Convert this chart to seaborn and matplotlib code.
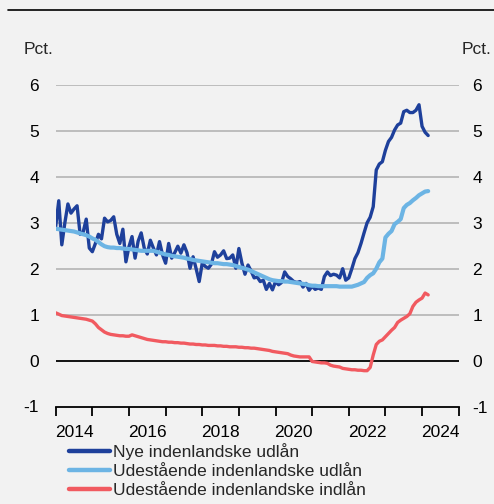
import numpy as np
import pandas as pd
import matplotlib
matplotlib.use("Agg")
import matplotlib.pyplot as plt
import seaborn as sns
from matplotlib.ticker import FixedLocator, NullFormatter, FixedFormatter
from matplotlib.lines import Line2D

# Monthly interest rates (pct.), January 2014 onwards
nye_udlaan = [
    2.92, 3.48, 2.52, 3.00, 3.41, 3.21, 3.30, 3.37, 2.75, 2.80, 3.08, 2.45,
    2.37, 2.55, 2.75, 2.65, 3.10, 3.02, 3.05, 3.13, 2.75, 2.55, 2.86, 2.15,
    2.48, 2.70, 2.23, 2.60, 2.78, 2.45, 2.32, 2.62, 2.45, 2.30, 2.59, 2.30,
    2.12, 2.55, 2.23, 2.35, 2.49, 2.34, 2.52, 2.35, 2.01, 2.26, 2.00, 1.72,
    2.12, 2.05, 2.01, 2.10, 2.37, 2.25, 2.30, 2.39, 2.22, 2.23, 2.30, 2.01,
    2.44, 2.12, 1.88, 2.08, 1.95, 1.80, 1.82, 1.72, 1.75, 1.55, 1.68, 1.54,
    1.72, 1.65, 1.70, 1.93, 1.83, 1.78, 1.72, 1.70, 1.72, 1.60, 1.68, 1.53,
    1.62, 1.55, 1.58, 1.55, 1.83, 1.93, 1.85, 1.88, 1.86, 1.80, 2.00, 1.75,
    1.80, 2.00, 2.22, 2.35, 2.55, 2.78, 3.00, 3.12, 3.35, 4.15, 4.28, 4.33,
    4.58, 4.77, 4.86, 5.02, 5.13, 5.17, 5.42, 5.45, 5.40, 5.40, 5.45, 5.57,
    5.10, 4.97, 4.90,
]
udestaaende_udlaan = [
    2.87, 2.86, 2.85, 2.84, 2.83, 2.82, 2.81, 2.79, 2.77, 2.75, 2.73, 2.70,
    2.66, 2.63, 2.58, 2.53, 2.49, 2.47, 2.46, 2.46, 2.45, 2.45, 2.44, 2.43,
    2.43, 2.42, 2.41, 2.40, 2.39, 2.39, 2.39, 2.39, 2.39, 2.37, 2.35, 2.33,
    2.31, 2.30, 2.28, 2.27, 2.26, 2.25, 2.24, 2.22, 2.21, 2.19, 2.18, 2.17,
    2.16, 2.15, 2.14, 2.13, 2.12, 2.12, 2.11, 2.10, 2.10, 2.09, 2.08, 2.06,
    2.04, 2.02, 2.00, 1.98, 1.95, 1.92, 1.89, 1.86, 1.83, 1.80, 1.77, 1.75,
    1.74, 1.73, 1.73, 1.72, 1.72, 1.71, 1.70, 1.69, 1.68, 1.67, 1.66, 1.64,
    1.63, 1.63, 1.62, 1.62, 1.62, 1.62, 1.62, 1.62, 1.62, 1.61, 1.61, 1.61,
    1.61, 1.61, 1.63, 1.65, 1.68, 1.71, 1.80, 1.86, 1.90, 2.00, 2.14, 2.22,
    2.68, 2.76, 2.82, 2.97, 3.02, 3.08, 3.32, 3.39, 3.43, 3.49, 3.54, 3.60,
    3.64, 3.68, 3.69,
]
udestaaende_indlaan = [
    1.04, 1.01, 0.98, 0.97, 0.96, 0.95, 0.94, 0.93, 0.92, 0.91, 0.90, 0.88,
    0.86, 0.80, 0.72, 0.67, 0.62, 0.59, 0.57, 0.56, 0.55, 0.54, 0.54, 0.53,
    0.53, 0.56, 0.54, 0.52, 0.50, 0.48, 0.46, 0.45, 0.44, 0.43, 0.42, 0.41,
    0.41, 0.40, 0.40, 0.39, 0.39, 0.38, 0.38, 0.37, 0.36, 0.36, 0.35, 0.35,
    0.34, 0.34, 0.33, 0.33, 0.33, 0.32, 0.32, 0.31, 0.31, 0.30, 0.30, 0.30,
    0.29, 0.29, 0.28, 0.28, 0.27, 0.27, 0.26, 0.25, 0.24, 0.23, 0.22, 0.20,
    0.19, 0.18, 0.17, 0.16, 0.15, 0.12, 0.10, 0.09, 0.08, 0.08, 0.08, 0.08,
    -0.02, -0.03, -0.04, -0.05, -0.05, -0.06, -0.10, -0.12, -0.13, -0.14, -0.17, -0.18,
    -0.19, -0.20, -0.20, -0.21, -0.21, -0.22, -0.22, -0.15, 0.12, 0.35, 0.42, 0.45,
    0.52, 0.59, 0.66, 0.72, 0.83, 0.88, 0.92, 0.96, 1.02, 1.18, 1.27, 1.32,
    1.36, 1.47, 1.43,
]

series_names = [
    "Nye indenlandske udlån",
    "Udestående indenlandske udlån",
    "Udestående indenlandske indlån",
]
series_colors = ["#1e409b", "#6cb4e4", "#f15a60"]
series_widths = [2.4, 3.0, 2.4]

year_ticks = list(range(2014, 2026))
year_labels = ["2014", "2016", "2018", "2020", "2022", "2024"]
y_ticks = [-1, 0, 1, 2, 3, 4, 5, 6]

start_year = 2014
frames = []
for name, vals in zip(series_names, [nye_udlaan, udestaaende_udlaan, udestaaende_indlaan]):
    t = start_year + np.arange(len(vals)) / 12.0
    frames.append(pd.DataFrame({"tid": t, "rente": vals, "serie": name}))
df = pd.concat(frames, ignore_index=True)

bg = "#f2f2f2"
sns.set_style("white")
plt.rcParams["font.family"] = ["Liberation Sans", "DejaVu Sans"]
fs = 12.5

fig = plt.figure(figsize=(4.94, 5.04), dpi=100, facecolor=bg)
ax = fig.add_axes([55.7 / 494, 1 - 406.5 / 504, 403 / 494, 321.5 / 504])
ax.set_facecolor(bg)

# horizontal grid and zero line
for yv in y_ticks:
    if yv == 0:
        ax.axhline(yv, color="black", lw=1.3, zorder=1)
    elif yv > -1:
        ax.axhline(yv, color="#b4b4b4", lw=1.2, zorder=1)

for name, col, lw in zip(series_names, series_colors, series_widths):
    sub = df[df["serie"] == name]
    sns.lineplot(data=sub, x="tid", y="rente", color=col, linewidth=lw, ax=ax,
                 zorder=3, legend=False, solid_capstyle="round")

ax.set_xlim(2014, 2025)
ax.set_ylim(-1, 6)
ax.set_xlabel("")
ax.set_ylabel("")

for s in ["top", "left", "right"]:
    ax.spines[s].set_visible(False)
ax.spines["bottom"].set_color("black")
ax.spines["bottom"].set_linewidth(1.3)

# year boundaries as major ticks, labels centred in the year
ax.xaxis.set_major_locator(FixedLocator(year_ticks))
ax.xaxis.set_major_formatter(NullFormatter())
ax.xaxis.set_minor_locator(FixedLocator([int(l) + 0.5 for l in year_labels]))
ax.xaxis.set_minor_formatter(FixedFormatter(year_labels))
ax.tick_params(axis="x", which="major", bottom=True, length=6.5, width=1.3,
               color="black", direction="out")
ax.tick_params(axis="x", which="minor", bottom=True, length=0, labelsize=fs,
               pad=13.5, labelcolor="black")

ax.set_yticks(y_ticks)
ax.set_yticklabels([str(v) for v in y_ticks])
ax.tick_params(axis="y", length=0, labelsize=fs, pad=12, labelcolor="black")

# same scale repeated on the right
ax_r = ax.twinx()
ax_r.set_ylim(ax.get_ylim())
ax_r.set_yticks(y_ticks)
ax_r.set_yticklabels([str(v) for v in y_ticks])
ax_r.tick_params(axis="y", length=0, labelsize=fs, pad=10, labelcolor="black")
for s in ax_r.spines.values():
    s.set_visible(False)
ax_r.set_ylabel("")

fig.text(24 / 494, 1 - 49 / 504, "Pct.", fontsize=fs, ha="left", va="center")
fig.text(491 / 494, 1 - 49 / 504, "Pct.", fontsize=fs, ha="right", va="center")

# rule along the top
fig.add_artist(Line2D([8 / 494, 1.0], [1 - 10 / 504, 1 - 10 / 504], color="black", lw=1.2))

handles = [Line2D([], [], color=c, lw=3.2) for c in series_colors]
fig.legend(handles, series_names, loc="upper left", bbox_to_anchor=(69 / 494, 1 - 443 / 504),
           frameon=False, fontsize=fs, handlelength=2.35, handletextpad=0.2,
           labelspacing=0.22, borderpad=0, borderaxespad=0)

fig.savefig("out.png", dpi=100, facecolor=bg)
